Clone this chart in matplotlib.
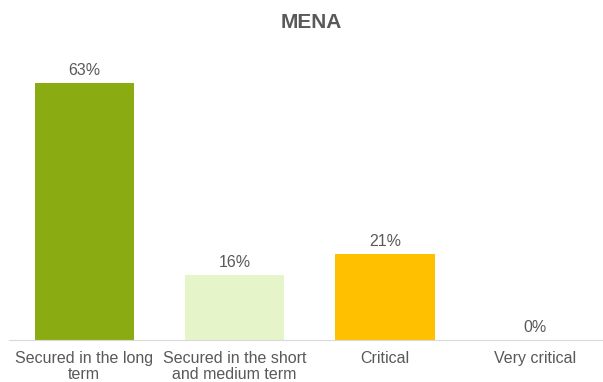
import matplotlib
matplotlib.use("Agg")
import matplotlib.pyplot as plt

categories = ["Secured in the long\nterm", "Secured in the short\nand medium term", "Critical", "Very critical"]
values = [63, 16, 21, 0]
colors = ["#8aac12", "#e6f4c9", "#ffc000", "#ffc000"]

plt.rcParams["font.family"] = ["Liberation Sans", "DejaVu Sans"]
text_color = "#595959"

fig = plt.figure(figsize=(6.03, 3.82), dpi=100)
ax = fig.add_axes([0.015, 0.110, 0.985, 0.748])

x = range(len(categories))
bars = ax.bar(x, values, width=0.66, color=colors)
for xi, v in zip(x, values):
    ax.text(xi, v + 1.2, f"{v}%", ha="center", va="bottom", fontsize=11.5, color=text_color)

ax.set_xlim(-0.5, 3.45)
ax.set_ylim(0, 70)
ax.set_xticks(list(x))
ax.set_xticklabels(categories, fontsize=11.5, color=text_color, linespacing=1.1)
ax.tick_params(axis="x", length=0, pad=8)
ax.set_yticks([])
for s in ["top", "left", "right"]:
    ax.spines[s].set_visible(False)
ax.spines["bottom"].set_color("#d9d9d9")

fig.text(0.516, 0.94, "MENA", ha="center", va="center", fontsize=15, fontweight="bold", color=text_color)

fig.savefig("out.png", dpi=100)
